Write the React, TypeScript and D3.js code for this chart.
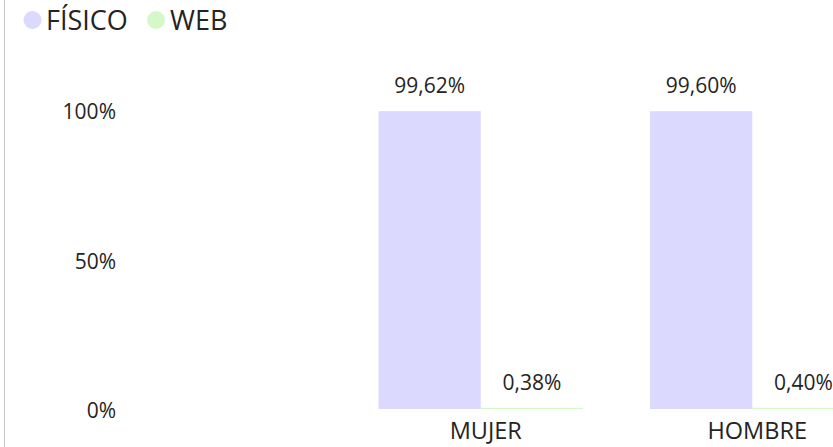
import React from "react";
import * as d3 from "d3";

const categories = ["MUJER", "HOMBRE"];
const seriesNames = ["FÍSICO", "WEB"];
const fisico = [99.62, 99.6];
const web = [0.38, 0.4];
const fisicoLabels = ["99,62%", "99,60%"];
const webLabels = ["0,38%", "0,40%"];
const yTicks = [0, 50, 100];
const colors = ["#DCD9FF", "#D6F8C8"];

const W = 833;
const H = 447;
const FONT = "'Segoe UI', 'Open Sans', 'Noto Sans', sans-serif";

export default function App() {
  const x0 = d3
    .scaleBand<string>()
    .domain(categories)
    .range([345, 888])
    .paddingInner(0.247)
    .paddingOuter(0.1235);
  const x1 = d3
    .scaleBand<string>()
    .domain(seriesNames)
    .range([0, x0.bandwidth()]);
  const y = d3.scaleLinear().domain([0, 100]).range([409, 110]);

  const series = [
    { name: seriesNames[0], values: fisico, labels: fisicoLabels, color: colors[0] },
    { name: seriesNames[1], values: web, labels: webLabels, color: colors[1] },
  ];

  return (
    <div style={{ position: "absolute", left: 0, top: 0 }}>
      <svg width={W} height={H} style={{ display: "block", fontFamily: FONT }}>
        <rect x={0} y={0} width={W} height={H} fill="#ffffff" />
        <line x1={4.5} x2={4.5} y1={0} y2={H} stroke="#C6C6C6" strokeWidth={1} />
        {/* legend */}
        <g>
          <circle cx={32.5} cy={20} r={9} fill={colors[0]} />
          <text x={46} y={29.5} fontSize={27} fill="#252423">
            {seriesNames[0]}
          </text>
          <circle cx={156} cy={20} r={9} fill={colors[1]} />
          <text x={170} y={29.5} fontSize={27} fill="#252423">
            {seriesNames[1]}
          </text>
        </g>
        {/* y axis labels */}
        <g>
          {yTicks.map((t) => (
            <text
              key={t}
              x={116}
              y={y(t) + 9}
              textAnchor="end"
              fontSize={21}
              fill="#252423"
            >
              {t + "%"}
            </text>
          ))}
        </g>
        {/* bars */}
        <g>
          {categories.map((c, i) => (
            <g key={c} transform={`translate(${x0(c)},0)`}>
              {series.map((s) => {
                const v = s.values[i];
                const bx = x1(s.name) as number;
                const top = y(v);
                return (
                  <g key={s.name}>
                    <rect
                      x={bx}
                      y={top}
                      width={x1.bandwidth()}
                      height={Math.max(1.2, y(0) - top)}
                      fill={s.color}
                    />
                    <text
                      x={bx + x1.bandwidth() / 2}
                      y={top - 18}
                      textAnchor="middle"
                      fontSize={21}
                      fill="#252423"
                    >
                      {s.labels[i]}
                    </text>
                  </g>
                );
              })}
            </g>
          ))}
        </g>
        {/* category labels */}
        <g>
          {categories.map((c) => (
            <text
              key={c}
              x={(x0(c) as number) + x0.bandwidth() / 2 + 5}
              y={439}
              textAnchor="middle"
              fontSize={23.5}
              fill="#252423"
            >
              {c}
            </text>
          ))}
        </g>
      </svg>
    </div>
  );
}
